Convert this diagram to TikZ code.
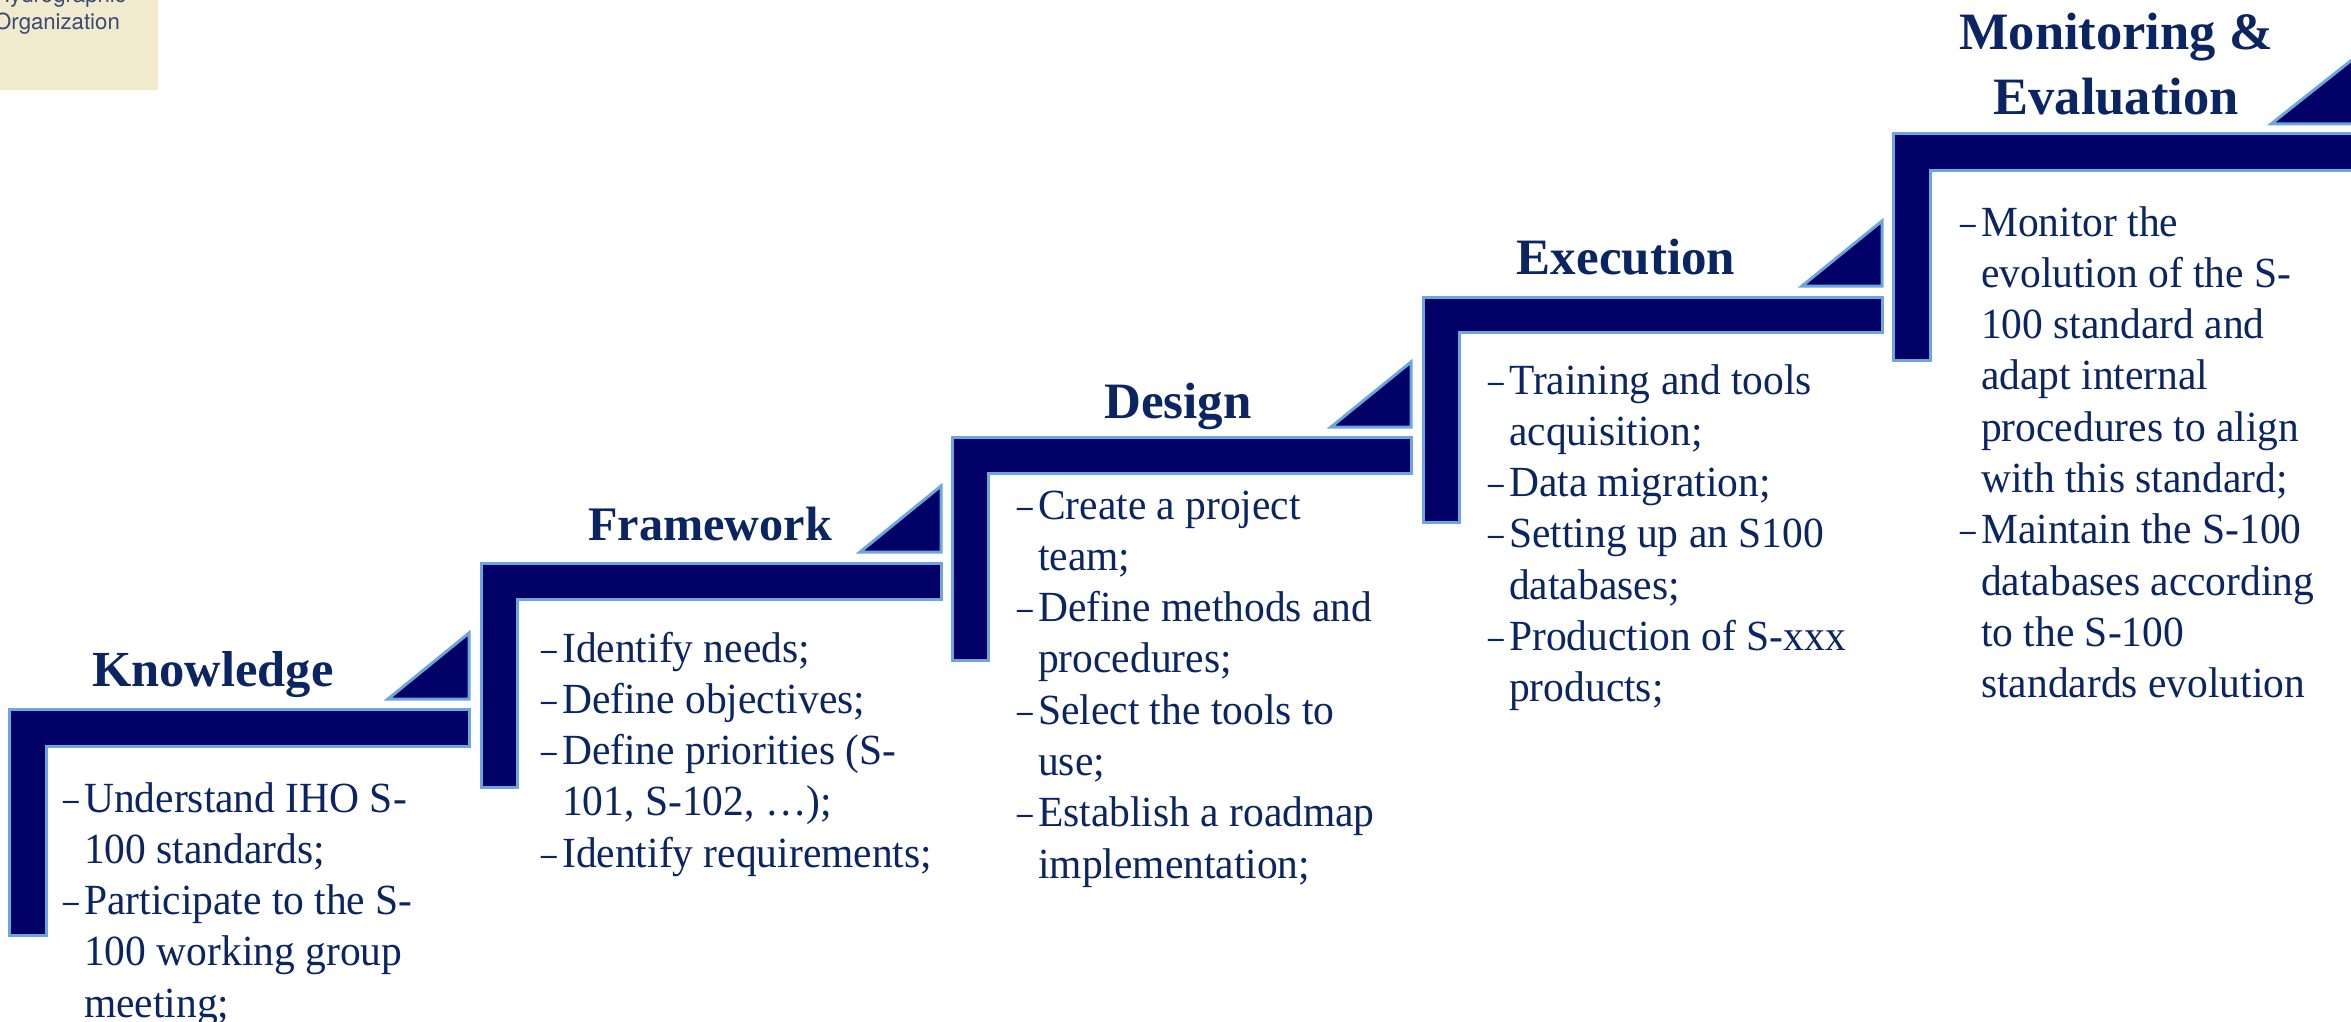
\documentclass[tikz,border=0pt]{standalone}
\usepackage{fontspec}
\setmainfont{Liberation Serif}
\newfontfamily\boxfont{TeX Gyre Heros}
\newfontfamily\bodyfont[FakeStretch=0.965]{Liberation Serif}
\definecolor{stairfill}{HTML}{000066}
\definecolor{stairedge}{HTML}{6CA6DC}
\definecolor{inktext}{HTML}{0B2563}
\definecolor{notefill}{HTML}{F0EACF}
\definecolor{notetext}{HTML}{3A4A70}
\newcommand{\bdash}{\scalebox{0.75}[1]{–}}
\newcommand{\steplist}[1]{\fontsize{43}{51.3}\bodyfont\begin{tabular}[t]{@{}p{21pt}@{}l@{}}#1\end{tabular}}
\newcommand{\titlesize}[1]{\fontsize{#1}{65}\selectfont}
\tikzset{
  stair/.style={fill=stairfill,draw=stairedge,line width=3pt,miter limit=10},
  wedge/.style={fill=stairfill,draw=stairedge,line width=3pt,line join=miter},
  stagetitle/.style={anchor=base,inner sep=0pt,text=inktext,font=\bfseries},
  stagebody/.style={anchor=base west,inner sep=0pt,text=inktext},
}
\begin{document}
\begin{tikzpicture}[x=1pt,y=-1pt]
\clip (0,0) rectangle (2351,1022);
% note box
\fill[notefill] (0,-5) rectangle (158,90);
\node[anchor=base west,inner sep=0pt,text=notetext] (org) at (-6,3)
  {\fontsize{22.2}{27}\selectfont\boxfont\begin{tabular}[t]{@{}l@{}}Hydrographic\\Organization\end{tabular}};
% stairs
\draw[stair] (9,709) -- (469,709) -- (469,746) -- (46,746) -- (46,935) -- (9,935) -- cycle;
\draw[wedge] (469,633) -- (469,699) -- (388,699) -- cycle;
\draw[stair] (481,563) -- (941,563) -- (941,599) -- (517,599) -- (517,787) -- (481,787) -- cycle;
\draw[wedge] (941,486) -- (941,552) -- (860,552) -- cycle;
\draw[stair] (952,437) -- (1411,437) -- (1411,473) -- (988,473) -- (988,660) -- (952,660) -- cycle;
\draw[wedge] (1411,362) -- (1411,427) -- (1331,427) -- cycle;
\draw[stair] (1423,297) -- (1882,297) -- (1882,332) -- (1459,332) -- (1459,522) -- (1423,522) -- cycle;
\draw[wedge] (1882,221) -- (1882,286) -- (1802,286) -- cycle;
\draw[stair] (1893,134) -- (2380,134) -- (2380,171) -- (1930,171) -- (1930,360) -- (1893,360) -- cycle;
\draw[wedge] (2353,59) -- (2380,59) -- (2380,124) -- (2271,124) -- cycle;
% titles
\node[stagetitle] (t1) at (213,686) {\titlesize{50.5}Knowledge};
\node[stagetitle] (t2) at (710,540) {\titlesize{48.2}Framework};
\node[stagetitle] (t3) at (1178,418) {\titlesize{51}Design};
\node[stagetitle] (t4) at (1626,274) {\titlesize{51}Execution};
\node[stagetitle] (t5) at (2116,50) {\titlesize{52.5}\begin{tabular}[t]{@{}c@{}}Monitoring \&\\Evaluation\end{tabular}};
% bodies
\node[stagebody] (b1) at (63,812) {\steplist{
\bdash&Understand IHO S-\\
&100 standards;\\
\bdash&Participate to the S-\\
&100 working group\\
&meeting;}};
\node[stagebody] (b2) at (541,662) {\steplist{
\bdash&Identify needs;\\
\bdash&Define objectives;\\
\bdash&Define priorities (S-\\
&101, S-102, …);\\
\bdash&Identify requirements;}};
\node[stagebody] (b3) at (1017,519) {\steplist{
\bdash&Create a project\\
&team;\\
\bdash&Define methods and\\
&procedures;\\
\bdash&Select the tools to\\
&use;\\
\bdash&Establish a roadmap\\
&implementation;}};
\node[stagebody] (b4) at (1488,394) {\steplist{
\bdash&Training and tools\\
&acquisition;\\
\bdash&Data migration;\\
\bdash&Setting up an S100\\
&databases;\\
\bdash&Production of S-xxx\\
&products;}};
\node[stagebody] (b5) at (1960,236) {\steplist{
\bdash&Monitor the\\
&evolution of the S-\\
&100 standard and\\
&adapt internal\\
&procedures to align\\
&with this standard;\\
\bdash&Maintain the S-100\\
&databases according\\
&to the S-100\\
&standards evolution}};
\end{tikzpicture}
\end{document}
